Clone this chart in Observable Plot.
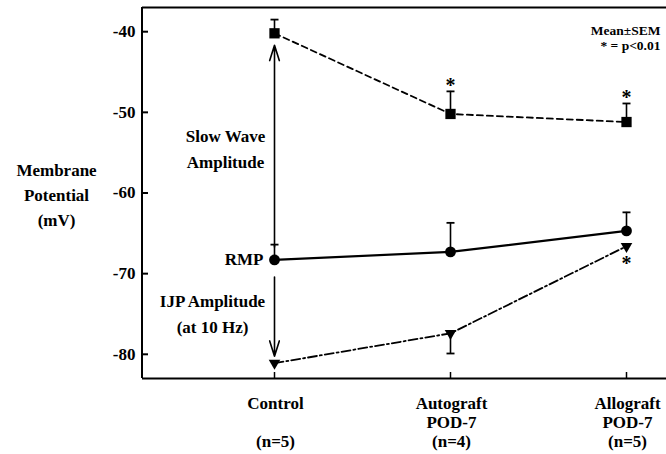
<!DOCTYPE html>
<html><head><meta charset="utf-8">
<script src="https://cdn.jsdelivr.net/npm/d3@7"></script>
<script src="https://cdn.jsdelivr.net/npm/@observablehq/plot@0.6"></script>
<style>body{margin:0;background:#fff}</style>
</head><body><div id="chart"></div>
<script>
const groups = ["Control", "Autograft", "Allograft"];
const groupLabels = ["Control\n\n(n=5)", "Autograft\nPOD-7\n(n=4)", "Allograft\nPOD-7\n(n=5)"];
const slowWave = [-40.2, -50.2, -51.2];
const slowWaveSem = [1.7, 2.8, 2.3];
const rmp = [-68.3, -67.3, -64.7];
const rmpSem = [1.9, 3.6, 2.3];
const ijp = [-81.1, -77.4, -66.6];
const ijpSem = [0, -2.5, 0];
const yTicks = [-40, -50, -60, -70, -80];
const slowWaveSig = ["Autograft", "Allograft"];
const ijpSig = ["Allograft"];

const rows = (vals, sem, name) => groups.map((g, i) => ({group: g, value: vals[i], sem: sem[i], series: name}));
const swRows = rows(slowWave, slowWaveSem, "sw");
const rmpRows = rows(rmp, rmpSem, "rmp");
const ijpRows = rows(ijp, ijpSem, "ijp");
const allRows = [...swRows, ...rmpRows, ...ijpRows].filter(d => d.sem !== 0);

const capSymbol = {draw(ctx, size) { const r = Math.sqrt(size / Math.PI); ctx.moveTo(-r, 0); ctx.lineTo(r, 0); }};

const W = 666, H = 454, mL = 142, mT = 7, mB = 76;
const frameH = H - mT - mB, frameW = W - mL;

// left axis line drawn at the frame's left edge
const leftAxisLine = (index, scales, values, dims) => {
  const g = d3.create("svg:g");
  g.append("line")
    .attr("x1", dims.marginLeft).attr("x2", dims.marginLeft)
    .attr("y1", dims.marginTop).attr("y2", dims.height - dims.marginBottom)
    .attr("stroke", "black").attr("stroke-width", 2);
  return g.node();
};

const chart = Plot.plot({
  width: W, height: H,
  marginLeft: mL, marginRight: 0, marginTop: mT, marginBottom: mB,
  style: {fontFamily: "'Liberation Serif', serif", fontWeight: "bold", fontSize: "17px", color: "#000", background: "#fff"},
  x: {type: "point", domain: groups, range: [274, 626], padding: 0, axis: null},
  y: {domain: [-83, -37], axis: null},
  marks: [
    Plot.ruleY([-83, -37], {strokeWidth: 2}),
    leftAxisLine,
    Plot.tickY(yTicks, {y: d => d, insetRight: frameW - 6, strokeWidth: 2}),
    Plot.tickX(groups, {x: d => d, insetTop: frameH - 6, strokeWidth: 1.5}),
    Plot.axisY({ticks: yTicks, tickSize: 0, tickPadding: 7, label: null, tickFormat: d => String(d).replace("−", "-"), fontSize: 17}),
    Plot.text(["Membrane\nPotential\n(mV)"], {frameAnchor: "left", dx: -86, textAnchor: "middle", lineHeight: 1.45, fontSize: 17}),
    Plot.text(groupLabels, {x: (d, i) => groups[i], frameAnchor: "bottom", lineAnchor: "middle", dy: 43, dx: 1, lineHeight: 1.12}),
    Plot.text(["Mean±SEM\n* = p<0.01"], {frameAnchor: "top-right", textAnchor: "end", lineAnchor: "top", dx: -6, dy: 16, fontSize: 13.5, lineHeight: 1.15}),
    // error bars
    Plot.ruleX(allRows, {x: "group", y1: "value", y2: d => d.value + d.sem, strokeWidth: 1.6}),
    Plot.dot(allRows, {x: "group", y: d => d.value + d.sem, symbol: capSymbol, r: 4, stroke: "black", strokeWidth: 1.8, fill: "none"}),
    // lines
    Plot.line(swRows, {x: "group", y: "value", strokeDasharray: "6,4", strokeWidth: 1.8}),
    Plot.line(rmpRows, {x: "group", y: "value", strokeWidth: 2.2}),
    Plot.line(ijpRows, {x: "group", y: "value", strokeDasharray: "9,3,2,3", strokeWidth: 1.8}),
    // markers
    Plot.dot(swRows, {x: "group", y: "value", symbol: "square", r: 5.8, fill: "black", stroke: null}),
    Plot.dot(rmpRows, {x: "group", y: "value", symbol: "circle", r: 5.4, fill: "black", stroke: null}),
    Plot.dot(ijpRows, {x: "group", y: "value", symbol: "triangle", rotate: 180, r: 4.3, fill: "black", stroke: null}),
    // significance stars
    Plot.text(swRows.filter(d => slowWaveSig.includes(d.group)), {x: "group", y: d => d.value + d.sem, text: () => "*", dy: -6, fontSize: 20}),
    Plot.text(ijpRows.filter(d => ijpSig.includes(d.group)), {x: "group", y: "value", text: () => "*", dy: 17, fontSize: 20}),
    // arrows
    Plot.arrow([0], {x1: () => groups[0], x2: () => groups[0], y1: () => rmp[0], y2: () => slowWave[0], insetStart: 13, insetEnd: 12, headLength: 15, headAngle: 35, strokeWidth: 1.6}),
    Plot.arrow([0], {x1: () => groups[0], x2: () => groups[0], y1: () => rmp[0], y2: () => ijp[0], insetStart: 17, insetEnd: 7, headLength: 15, headAngle: 35, strokeWidth: 1.6}),
    // annotations
    Plot.text(["Slow Wave\nAmplitude"], {x: () => groups[0], y: () => (rmp[0] + slowWave[0]) / 2, dx: -49, textAnchor: "middle", lineHeight: 1.55}),
    Plot.text(["RMP"], {x: () => groups[0], y: () => rmp[0], dx: -11, textAnchor: "end"}),
    Plot.text(["IJP Amplitude\n(at 10 Hz)"], {x: () => groups[0], y: () => (rmp[0] + ijp[0]) / 2, dx: -62, textAnchor: "middle", lineHeight: 1.55})
  ]
});
document.getElementById("chart").appendChild(chart);
</script>
</body></html>
